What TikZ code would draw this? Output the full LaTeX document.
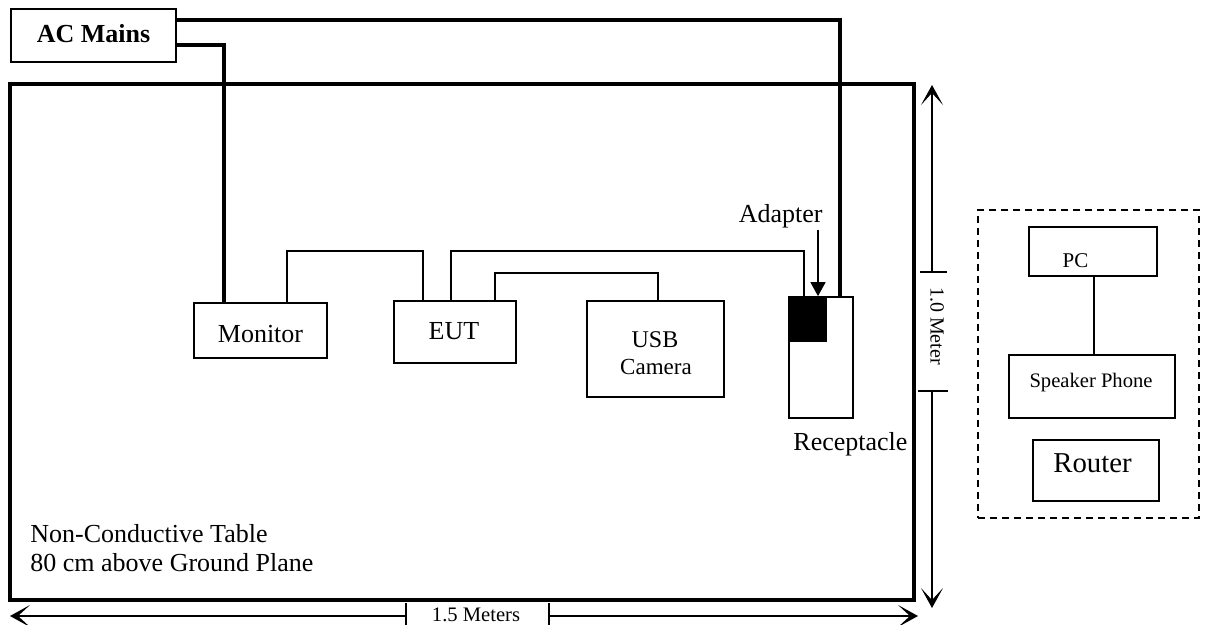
\documentclass[tikz,border=0pt]{standalone}
\usepackage{fontspec}
\setmainfont{Liberation Serif}
\usetikzlibrary{arrows.meta,fit}
\begin{document}
\begin{tikzpicture}[x=0.5pt,y=-0.5pt,
  box/.style={draw,line width=0.85pt,inner sep=0pt},
  thinline/.style={line width=0.7pt},
  power/.style={line width=1.6pt},
  dim/.style={line width=0.6pt},
  dimarrow/.style={dim,-{Stealth[length=10pt,width=11pt,inset=6pt]}},
  txt/.style={inner sep=0pt,anchor=base,font=\fontsize{13}{15}\selectfont}]
\useasboundingbox (0,0) rectangle (1205,625);

% table
\node[fit={(10,84) (914,600)}, draw, line width=1.6pt, inner sep=0pt] (table) {};
\node[txt, anchor=base west] (tabletxt1) at (30,543) {Non-Conductive Table};
\node[txt, anchor=base west] (tabletxt2) at (30,571) {80 cm above Ground Plane};

% AC mains
\node[box, fit={(11,9) (176,62)}] (acmains) {};
\node[txt, font=\fontsize{13}{15}\selectfont\bfseries] (actxt) at (93.5,43) {AC Mains};

% equipment
\node[box, fit={(194,303) (327,358)}] (monitor) {};
\node[txt] (montxt) at (260.5,343) {Monitor};
\node[box, fit={(394,301) (516,363)}] (eut) {};
\node[txt] (euttxt) at (454,340) {EUT};
\node[box, fit={(587,301) (724,397)}] (camera) {};
\node[txt, font=\fontsize{12}{14}\selectfont] (usbtxt) at (655,348) {USB};
\node[txt, font=\fontsize{11.5}{14}\selectfont] (camtxt) at (656,375) {Camera};
\node[box, fit={(789,297) (853,418)}] (recept) {};
\node[fill=black, draw, line width=0.85pt, inner sep=0pt, fit={(789,297) (826,341)}] (adapter) {};
\node[txt, anchor=base east] (adlabel) at (823,223) {Adapter};
\node[txt, anchor=base west] (reclabel) at (793,451) {Receptacle};

% power lines
\draw[power] (acmains.east |- 0,20) -| (recept.north -| 840,0);
\draw[power] (acmains.east |- 0,45) -| (monitor.north -| 224,0);

% signal cables
\draw[thinline] (monitor.north -| 287,0) |- (423,251) -- (eut.north -| 423,0);
\draw[thinline] (eut.north -| 451,0) |- (804,251) -- (adapter.north -| 804,0);
\draw[thinline] (eut.north -| 495,0) |- (658,273) -- (camera.north -| 658,0);

% adapter pointer
\coordinate (adtail) at (818,230);
\draw[thinline, -{Triangle[length=7pt,width=7.5pt]}] (adtail) -- (adapter.north -| 818,0);

% vertical dimension
\coordinate (vtop) at (932,85);
\coordinate (vbot) at (932,608);
\coordinate (vt1) at (932,272);
\coordinate (vt2) at (932,391);
\draw[dim] (920,272) -- (947,272);
\draw[dim] (918,391) -- (948,391);
\draw[dimarrow] (vt1) -- (vtop);
\draw[dimarrow] (vt2) -- (vbot);
\node[inner sep=0pt, rotate=-90, font=\fontsize{10}{12}\selectfont] (vlabel) at (937,326) {1.0 Meter};

% horizontal dimension
\coordinate (hleft) at (10,616);
\coordinate (hright) at (918,616);
\coordinate (ht1) at (406,616);
\coordinate (ht2) at (549,616);
\draw[dim] (406,603) -- (406,625);
\draw[dim] (549,603) -- (549,625);
\draw[dimarrow] (ht1) -- (hleft);
\draw[dimarrow] (ht2) -- (hright);
\node[txt, font=\fontsize{10.3}{12}\selectfont] (hlabel) at (476,621) {1.5 Meters};

% support equipment
\node[fit={(978,210) (1199,518)}, draw, dash pattern=on 3.5pt off 2.5pt, line width=0.8pt, inner sep=0pt] (support) {};
\node[box, fit={(1029,227) (1157,276)}] (pc) {};
\node[txt, font=\fontsize{10.5}{12}\selectfont] (pctxt) at (1075.5,268) {PC};
\node[box, fit={(1009,355) (1175,418)}] (phone) {};
\node[txt, font=\fontsize{10.3}{12}\selectfont] (phonetxt) at (1091,388) {Speaker Phone};
\node[box, fit={(1033,440) (1159,501)}] (router) {};
\node[txt, font=\fontsize{14.4}{16}\selectfont] (routertxt) at (1092.5,473) {Router};
\draw[thinline] (pc.south -| 1094,0) -- (phone.north -| 1094,0);
\end{tikzpicture}
\end{document}
